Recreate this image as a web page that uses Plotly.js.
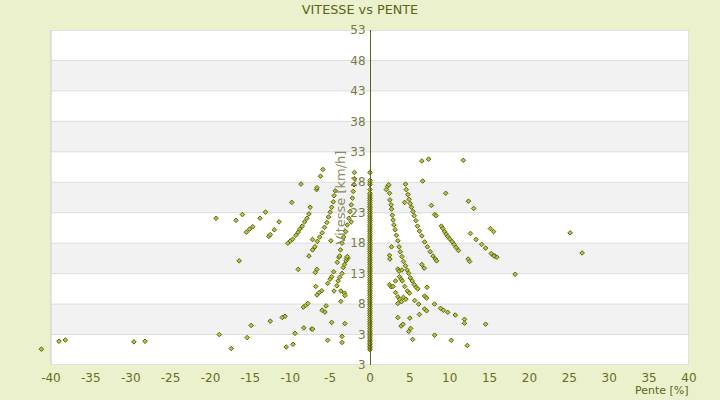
<!DOCTYPE html>
<html>
<head>
<meta charset="utf-8">
<script src="https://cdn.plot.ly/plotly-3.0.1.min.js"></script>
<style>html,body{margin:0;padding:0;background:#ebf1cd;}#chart{width:720px;height:400px;}</style>
</head>
<body>
<div id="chart"></div>
<script>
// Tick values / labels
const xTicks = [-40,-35,-30,-25,-20,-15,-10,-5,0,5,10,15,20,25,30,35,40];
const yTicks = [-2,3,8,13,18,23,28,33,38,43,48,53];
const yTickText = ["3","3","8","13","18","23","28","33","38","43","48","53"];

// Points on the zero-slope axis
const vitesseAxe = [0.5,0.8,1.0,1.3,1.5,1.8,2.1,2.3,2.6,2.9,3.2,3.4,3.7,4.0,4.3,4.6,4.9,5.2,5.5,5.8,6.1,6.4,6.7,7.0,7.3,7.6,7.9,8.2,8.5,8.8,9.1,9.4,9.7,10.0,10.3,10.6,10.9,11.2,11.5,11.8,12.1,12.4,12.7,13.0,13.3,13.6,13.9,14.2,14.5,14.8,15.1,15.4,15.7,16.0,16.3,16.6,16.9,17.2,17.5,17.8,18.1,18.4,18.7,19.0,19.3,19.6,19.9,20.2,20.5,20.8,21.1,21.4,21.7,22.0,22.3,22.6,22.9,23.2,23.5,23.8,24.1,24.4,24.7,25.0,25.3,25.6,25.9,26.2,26.8,27.6,27.9,28.3,29.6];
const penteAxe = vitesseAxe.map(() => 0);

// Negative slopes (descents)
const penteGauche = [-41.2,-39.0,-38.2,-29.6,-28.2,
 -19.3,-16.8,-16.0,-15.5,-15.1,-14.7,-13.8,-13.1,-12.7,-12.5,-12.0,-11.4,-9.8,-8.65,
 -10.3,-10.0,-9.7,-9.3,-9.0,-8.8,-8.5,-8.2,-7.9,-7.65,-7.5,
 -7.65,-7.2,-6.9,-6.6,-6.3,-6.0,-5.7,-5.4,-5.2,-5.0,-4.8,-4.6,-4.5,-4.35,
 -3.9,-3.7,-3.5,-3.3,-3.05,-2.85,-2.65,-2.5,-2.35,-2.2,-2.1,-2.0,-1.95,-1.95,
 -7.2,-4.9,-6.7,-6.65,-6.2,-5.9,-2.35,-2.8,
 -16.4,-18.9,-17.4,-15.4,-14.9,-12.5,-11.0,-10.65,-10.5,-9.65,-9.4,-9.0,-8.3,-8.35,-8.05,-7.8,-7.3,-7.2,
 -6.85,-6.65,-6.8,-6.65,-6.35,-6.05,-6.0,-5.65,-5.5,-5.3,-5.0,-4.8,-4.55,-5.3,-4.8,-4.5,-4.15,-4.0,-3.8,
 -4.1,-3.8,-3.5,-3.35,-3.2,-3.0,-2.95,-2.85,-3.65,-3.2,-3.15,-3.65,-3.15,-3.5,-3.5];
const vitesseGauche = [0.6,1.9,2.1,1.8,1.9,
 22.1,21.75,22.7,19.8,20.3,20.7,22.1,23.1,19.1,19.4,20.2,21.5,24.7,27.7,
 18.0,18.35,18.65,19.3,19.8,20.3,20.8,21.5,22.1,22.8,23.9,
 15.9,16.9,17.4,18.3,19.0,19.7,20.6,21.4,22.3,23.1,23.9,24.8,25.8,26.6,
 15.7,16.9,18.0,19.0,19.9,21.0,22.1,23.2,24.3,25.4,26.5,27.6,28.6,29.6,
 18.6,18.4,26.8,27.1,29.0,30.1,21.5,15.5,
 15.1,3.0,0.7,2.5,4.5,5.2,5.8,6.0,0.95,1.4,3.2,13.7,4.1,7.5,7.8,8.1,3.9,3.9,
 13.2,13.7,10.9,9.5,9.9,10.2,7.0,6.7,7.7,11.4,12.1,12.5,13.3,2.05,5.0,10.15,11.0,11.8,12.4,
 14.85,15.9,13.05,14.0,14.5,15.1,15.5,15.8,10.15,9.8,9.4,8.45,4.8,2.7,1.7];

// Positive slopes (climbs)
const penteDroite = [2.05,2.2,2.35,2.45,2.5,2.65,2.7,2.8,2.9,3.0,3.15,3.3,3.5,3.65,3.8,4.0,4.2,4.45,4.65,4.85,5.05,5.3,5.55,5.8,6.0,
 4.45,4.55,4.75,4.9,5.05,5.2,5.4,5.55,5.75,5.95,6.2,6.5,6.85,7.2,7.55,7.9,8.2,8.35,
 8.95,9.15,9.35,9.55,9.75,10.0,10.3,10.55,10.8,11.1,
 4.35,6.5,7.35,6.6,11.7,9.5,7.7,8.1,8.3,12.35,13.0,15.1,15.5,12.6,13.3,14.0,14.5,15.2,15.65,15.9,
 2.7,2.45,2.5,12.3,3.5,3.65,4.0,3.7,3.9,4.05,3.2,2.45,2.65,2.9,3.2,3.5,3.7,3.95,3.5,4.35,4.2,4.5,4.7,4.95,
 5.6,6.1,6.2,3.5,5.0,3.9,4.15,4.85,5.1,5.35,6.5,6.8,7.15,6.85,7.1,6.85,7.1,8.1,8.85,9.2,9.75,10.7,
 11.85,11.85,14.5,8.1,10.2,12.2,18.2,12.5,15.55,25.1,26.6];
const vitesseDroite = [26.8,27.3,27.6,26.2,25.1,24.3,23.6,22.6,21.8,21.0,20.2,19.3,18.4,17.4,16.6,15.8,15.0,14.3,13.6,13.05,12.3,11.8,11.2,10.75,10.5,
 27.7,26.8,26.0,25.2,24.5,23.9,23.2,22.5,21.7,20.8,20.0,19.2,18.2,17.4,16.6,15.9,15.4,15.1,
 20.8,20.4,19.9,19.5,19.1,18.7,18.25,17.8,17.3,16.8,
 24.7,31.5,31.8,28.2,31.6,26.2,24.2,22.7,22.5,24.9,23.7,20.4,19.9,19.6,18.6,17.8,17.2,16.3,15.9,15.7,
 17.4,16.0,15.4,15.4,13.75,13.4,13.6,12.5,12.1,11.8,11.8,11.2,10.85,10.9,9.9,9.2,8.8,8.4,8.1,10.9,9.1,8.8,10.15,9.8,
 8.6,8.0,6.3,5.8,5.7,4.4,4.7,3.5,4.0,2.2,14.5,13.9,10.75,9.3,9.0,7.2,6.9,8.0,7.3,7.0,6.65,6.2,
 5.5,4.85,4.7,2.9,2.05,1.2,12.9,15.0,15.9,19.7,16.4];

const xMin = xTicks[0], xMax = xTicks[xTicks.length - 1];
const yMin = yTicks[0], yMax = yTicks[yTicks.length - 1];
const xView = [-42, xMax]; // extra room left so the outlying point stays visible

const marker = {symbol:'diamond', size:3.5, color:'#bcc244', line:{color:'#5a6610', width:1}};
const mk = (x, y) => ({type:'scatter', mode:'markers', x:x, y:y, marker:marker, cliponaxis:false, showlegend:false, hoverinfo:'x+y'});
const data = [mk(penteAxe, vitesseAxe), mk(penteGauche, vitesseGauche), mk(penteDroite, vitesseDroite)];

// Plot box, alternating bands, gridlines, border
const shapes = [{type:'rect', xref:'x', yref:'y', x0:xMin, x1:xMax, y0:yMin, y1:yMax,
  fillcolor:'#ffffff', line:{width:0}, layer:'below'}];
for (let i = 0; i < yTicks.length - 1; i++) {
  if (i % 2 === 1) {
    shapes.push({type:'rect', xref:'x', yref:'y', x0:xMin, x1:xMax, y0:yTicks[i], y1:yTicks[i+1],
      fillcolor:'#f2f2f2', line:{width:0}, layer:'below'});
  }
}
for (let i = 1; i < yTicks.length - 1; i++) {
  shapes.push({type:'line', xref:'x', yref:'y', x0:xMin, x1:xMax, y0:yTicks[i], y1:yTicks[i],
    line:{color:'#dcdcdc', width:1}, layer:'below'});
}
shapes.push({type:'rect', xref:'x', yref:'y', x0:xMin, x1:xMax, y0:yMin, y1:yMax,
  fillcolor:'rgba(0,0,0,0)', line:{color:'#d8d8d8', width:1.5}, layer:'below'});

const layout = {
  width:720, height:400,
  margin:{l:35, r:31, t:30, b:35},
  paper_bgcolor:'#ebf1cd',
  plot_bgcolor:'#ebf1cd',
  font:{family:'DejaVu Sans, Verdana, sans-serif'},
  title:{text:'VITESSE vs PENTE', font:{family:'DejaVu Sans, sans-serif', size:12.8, color:'#5b6418'},
    x:0.5, xanchor:'center', xref:'container', y:0.975, yanchor:'middle', yref:'container'},
  xaxis:{range:xView, tickvals:xTicks, ticktext:xTicks.map(String), showgrid:false, zeroline:false,
    showline:false, ticks:'', tickfont:{size:12, color:'#6b6b1f'}, ticklabelstandoff:4, fixedrange:true},
  yaxis:{range:[yMin, yMax], tickvals:yTicks, ticktext:yTickText, anchor:'free',
    position:(0 - xView[0]) / (xView[1] - xView[0]),
    showline:true, linecolor:'#5a6410', linewidth:1.5, showgrid:false,
    zeroline:false, ticks:'', tickfont:{size:12, color:'#7a7a45'}, ticklabelstandoff:2, fixedrange:true},
  shapes:shapes,
  annotations:[
    {text:'Pente [%]', xref:'paper', yref:'paper', x:1, xshift:1, y:-0.077, xanchor:'right', yanchor:'middle',
      showarrow:false, borderpad:0, font:{size:11, color:'#5b6418'}},
    {text:'Vitesse [km/h]', xref:'x', yref:'paper', x:-3.75, y:0.5, xanchor:'center', yanchor:'middle',
      textangle:-90, showarrow:false, font:{size:13, color:'#8a8a5e'}}
  ],
  showlegend:false
};

Plotly.newPlot('chart', data, layout, {displayModeBar:false, staticPlot:true});
</script>
</body>
</html>
